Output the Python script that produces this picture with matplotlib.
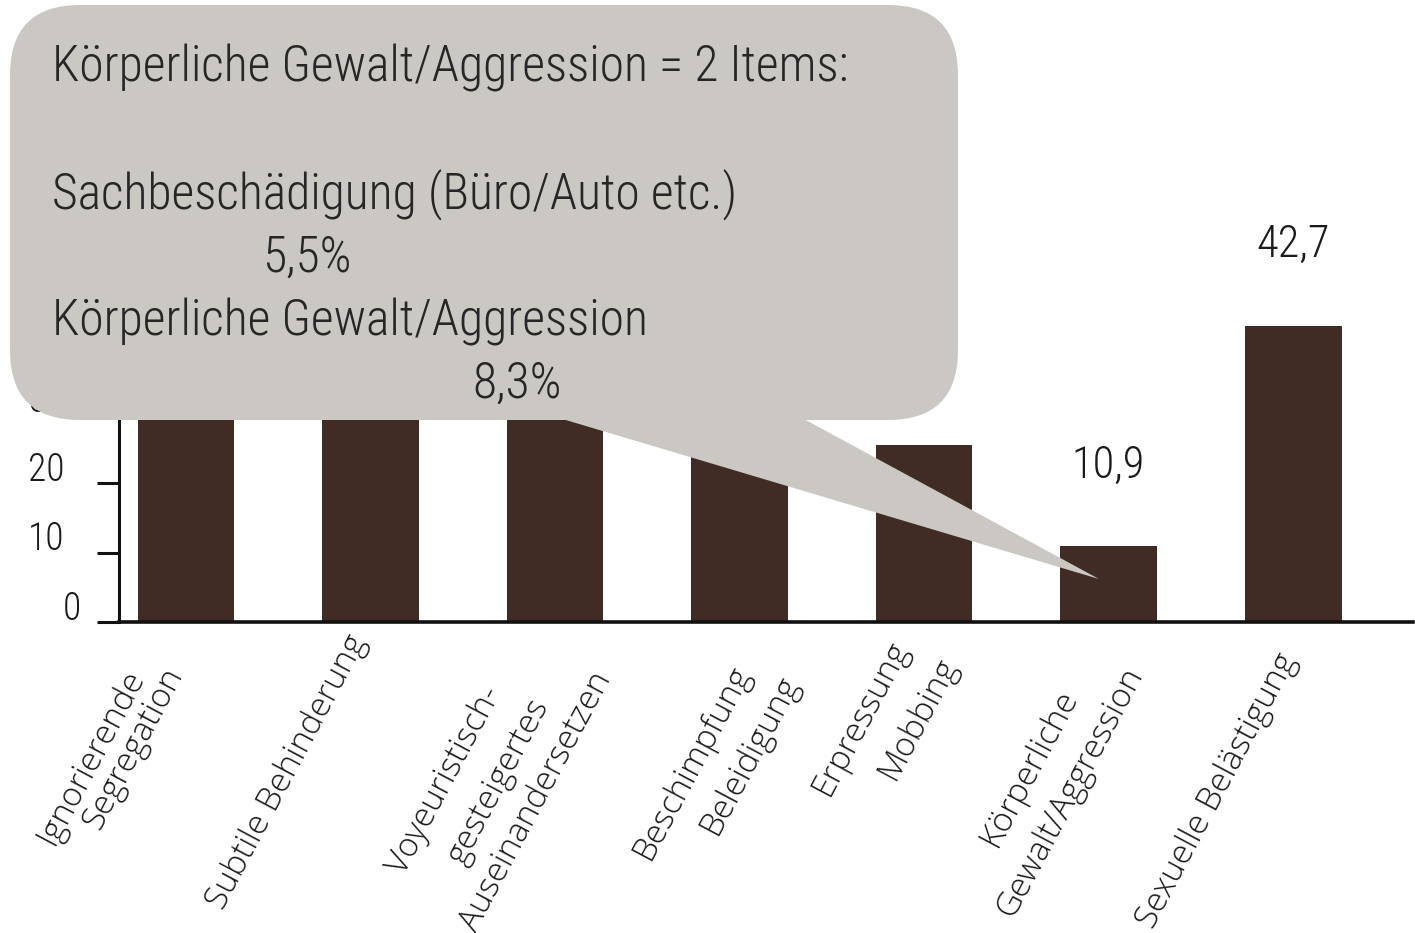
import matplotlib
matplotlib.use("Agg")
import matplotlib.pyplot as plt
from matplotlib import font_manager as fm
from matplotlib.patches import FancyBboxPatch, Polygon
from matplotlib.transforms import Affine2D, ScaledTranslation

# ---------------- data ----------------
categories = [
    "Ignorierende\nSegregation",
    "Subtile Behinderung",
    "Voyeuristisch-\ngesteigertes\nAuseinandersetzen",
    "Beschimpfung\nBeleidigung",
    "Erpressung\nMobbing",
    "Körperliche\nGewalt/Aggression",
    "Sexuelle Belästigung",
]
# bars partly hidden by the callout are estimated
values = [33.6, 37.5, 31.4, 27.3, 25.6, 10.9, 42.7]
value_labels = ["", "", "", "", "", "10,9", "42,7"]
yticks = [0, 10, 20, 30, 40, 50]

callout_lines = [
    "Körperliche Gewalt/Aggression = 2 Items:",
    "Sachbeschädigung (Büro/Auto etc.)",
    "5,5%",
    "Körperliche Gewalt/Aggression",
    "8,3%",
]

# ---------------- style ----------------
W, H = 1415, 933
BAR = "#402c24"
CALLOUT = "#cbc8c3"
TXT = "#1a1a1a"

avail = {f.name for f in fm.fontManager.ttflist}
def pick(*names):
    for n in names:
        if n in avail:
            return n
    return "DejaVu Sans"

COND = pick("Roboto Condensed", "Liberation Sans Narrow", "DejaVu Sans")
HUM = pick("Open Sans", "Noto Sans", "Lato", "DejaVu Sans")

fig = plt.figure(figsize=(W / 100, H / 100), dpi=100)
fig.patch.set_facecolor("white")

# axes placed in pixel layout: left spine x=119, baseline y=622
x0_px, base_px, right_px = 119, 622, 1413
px_per_unit_y = 6.93
ymax = 50
ax_h = ymax * px_per_unit_y
ax = fig.add_axes([x0_px / W, (H - base_px) / H, (right_px - x0_px) / W, ax_h / H])

xpos = list(range(len(categories)))
ax.bar(xpos, values, width=0.525, color=BAR, zorder=2)
ax.set_xlim(-0.363, 6.65)
ax.set_ylim(0, ymax)

for s in ["top", "right"]:
    ax.spines[s].set_visible(False)
ax.spines["left"].set_linewidth(2.2)
ax.spines["bottom"].set_linewidth(2.6)
ax.spines["left"].set_color("#111111")
ax.spines["bottom"].set_color("#111111")

ax.set_yticks(yticks)
ax.set_yticklabels([str(v) for v in yticks])
ax.tick_params(axis="y", direction="out", length=16, width=2.2, color="#111111",
               pad=23, labelsize=27)
for lab in ax.get_yticklabels():
    lab.set_fontfamily(COND)
    lab.set_fontweight("light")
    lab.set_color(TXT)
    lab.set_transform(lab.get_transform() + ScaledTranslation(0, 0.17, fig.dpi_scale_trans))
# the "0" label sits further right in the reference
ax.get_yticklabels()[0].set_transform(
    ax.get_yticklabels()[0].get_transform() + ScaledTranslation(0.16, 0.0, fig.dpi_scale_trans))

# x labels: each line drawn as rotated text below its tick
ax.set_xticks(xpos)
ax.set_xticklabels([""] * len(xpos))
ax.tick_params(axis="x", length=0, pad=0)
# centre of every label line, in pixels (right, down) from the tick at the baseline
line_offsets = [
    [(-95, 135), (-53, 126)],
    [(-84, 150)],
    [(-110, 158), (-57, 160), (-19, 180)],
    [(-47, 140), (10, 133)],
    [(-63, 96), (-6, 96)],
    [(-79, 146), (-38, 170)],
    [(-76, 169)],
]
xtr = ax.get_xaxis_transform()
for x, cat, offs in zip(xpos, categories, line_offsets):
    for line, (dx, dy) in zip(cat.split("\n"), offs):
        ax.text(x, 0, line,
                transform=xtr + ScaledTranslation(dx / 100, -dy / 100, fig.dpi_scale_trans),
                rotation=62, rotation_mode="anchor", ha="center", va="center",
                fontsize=24, fontfamily=HUM, fontweight="light", color=TXT,
                clip_on=False)

# value labels
for x, v, t in zip(xpos, values, value_labels):
    if t:
        ax.annotate(t, (x, v), xytext=(0, 69 * 0.72), textcoords="offset points",
                    ha="center", va="baseline", fontsize=32, fontfamily=COND,
                    fontweight="light", color=TXT)

# ---------------- callout (pixel layout) ----------------
pix = Affine2D().scale(1, -1).translate(0, H).scale(1 / W, 1 / H) + fig.transFigure
box = FancyBboxPatch((10, 5), 948, 415, boxstyle="round,pad=0,rounding_size=70",
                     transform=pix, facecolor=CALLOUT, edgecolor="none", zorder=10)
fig.add_artist(box)
wedge = Polygon([(559, 418), (802, 418), (1099, 579)], closed=True, transform=pix,
                facecolor=CALLOUT, edgecolor="none", zorder=10)
fig.add_artist(wedge)

line_pos = [(52, 82), (52, 208), (262, 272), (52, 335), (472, 398)]
for t, (x, y) in zip(callout_lines, line_pos):
    fig.text(x, y, t, transform=pix, ha="left", va="baseline", fontsize=35.7,
             fontfamily=COND, fontweight="light", color="#262626", zorder=11)

fig.savefig("out.png", dpi=100, facecolor="white")
